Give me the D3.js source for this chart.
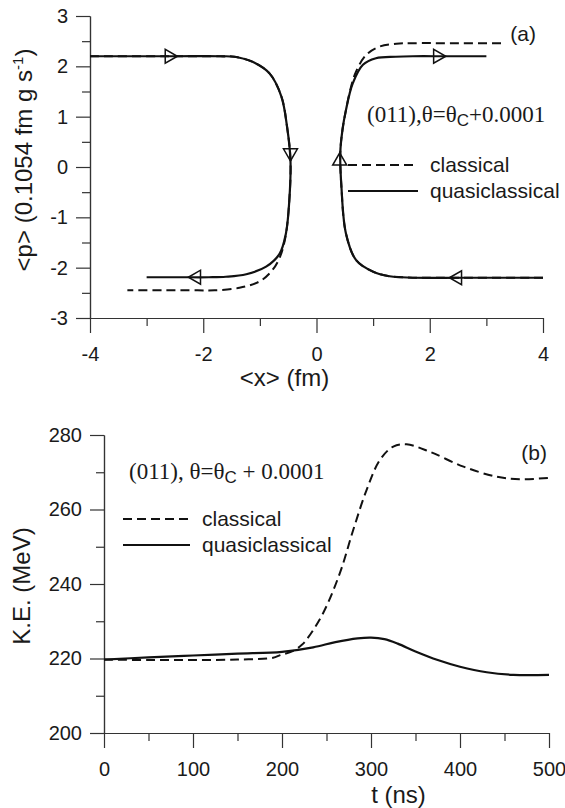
<!DOCTYPE html>
<html>
<head>
<meta charset="utf-8">
<script src="https://cdn.jsdelivr.net/npm/d3@7"></script>
<style>
  body { margin: 0; background: #fff; }
  svg text { font-family: "Liberation Sans", Arial, sans-serif; fill: #1a1a1a; }
  .axis path, .axis line { stroke: #333; stroke-width: 1.2; }
  .axis text { font-size: 20px; fill: #1a1a1a; }
</style>
</head>
<body>
<svg id="chart" width="565" height="808"></svg>
<script>
// ---- panel (a): phase-space trajectories, [x, p] ----
const quasiLeft = [[-4, 2.2], [-2.5, 2.2], [-1.7, 2.2], [-1.45, 2.19], [-1.13, 2.09], [-0.83, 1.86],
  [-0.62, 1.40], [-0.52, 0.80], [-0.46, 0.14], [-0.48, -0.66], [-0.54, -1.32], [-0.65, -1.72],
  [-0.89, -1.98], [-1.24, -2.13], [-1.6, -2.18], [-1.9, -2.19], [-2.4, -2.19], [-3.0, -2.19]];
const classicLeft = [[-4, 2.2], [-2.5, 2.2], [-1.7, 2.2], [-1.45, 2.19], [-1.13, 2.09], [-0.83, 1.86],
  [-0.62, 1.40], [-0.52, 0.80], [-0.46, 0.14], [-0.48, -0.66], [-0.55, -1.40], [-0.65, -1.80],
  [-0.78, -2.05], [-1.0, -2.27], [-1.36, -2.40], [-1.8, -2.45], [-2.1, -2.45], [-2.7, -2.45], [-3.34, -2.45]];
const quasiRight = [[4, -2.2], [2.6, -2.2], [1.7, -2.2], [1.5, -2.19], [1.29, -2.17], [1.0, -2.08],
  [0.70, -1.85], [0.52, -1.32], [0.44, -0.39], [0.42, 0.28], [0.46, 0.75], [0.52, 1.13], [0.64, 1.66],
  [0.82, 2.03], [1.05, 2.16], [1.4, 2.19], [1.7, 2.2], [2.3, 2.2], [3.0, 2.2]];
const classicRight = [[4, -2.2], [2.6, -2.2], [1.7, -2.2], [1.5, -2.19], [1.29, -2.17], [1.0, -2.08],
  [0.70, -1.85], [0.52, -1.32], [0.44, -0.39], [0.42, 0.28], [0.46, 0.75], [0.52, 1.13], [0.60, 1.55],
  [0.70, 1.90], [0.88, 2.23], [1.11, 2.39], [1.41, 2.45], [1.7, 2.46], [2.4, 2.46], [3.28, 2.46]];
// direction markers on the quasiclassical curve
const arrowsA = [
  {x: -2.6, p: 2.2, dir: 90}, {x: -0.46, p: 0.28, dir: 180}, {x: -2.12, p: -2.19, dir: -90},
  {x: 0.41, p: 0.12, dir: 0}, {x: 2.14, p: 2.2, dir: 90}, {x: 2.49, p: -2.2, dir: -90}
];
const xTicksA = [-4, -2, 0, 2, 4];
const yTicksA = [-3, -2, -1, 0, 1, 2, 3];

// ---- panel (b): kinetic energy vs time ----
const tClassic = [0, 50, 100, 150, 190, 198, 212, 222, 228, 246, 265, 280, 295, 310, 325, 340, 366, 404, 441, 467, 500];
const keClassic = [219.7, 219.6, 219.6, 219.7, 220.2, 220.9, 222.0, 223.6, 225.2, 232.1, 242.9, 254.5, 265.2,
  273.3, 276.9, 277.5, 275.5, 271.5, 268.8, 268.1, 268.5];
const tQuasi = [0, 50, 100, 150, 200, 235, 260, 285, 300, 315, 330, 350, 375, 400, 430, 460, 500];
const keQuasi = [219.7, 220.3, 220.8, 221.3, 221.8, 223.0, 224.4, 225.4, 225.6, 225.2, 224.0, 221.9, 219.6,
  217.8, 216.3, 215.6, 215.6];
const xTicksB = [0, 100, 200, 300, 400, 500];
const yTicksB = [200, 220, 240, 260, 280];

const svg = d3.select('#chart');
const dash = '9,5';
const fmt = d => String(d);   // plain hyphen for negatives, as in the figure

function drawAxes(g, x, y, xMajor, xMinor, yMajor, yMinor) {
  const h = y.range()[0];
  const left = x.range()[0];
  g.append('g').attr('class', 'axis').attr('transform', `translate(0,${h})`)
    .call(d3.axisBottom(x).tickValues(xMinor).tickSize(8).tickFormat('').tickSizeOuter(0));
  g.append('g').attr('class', 'axis').attr('transform', `translate(0,${h})`)
    .call(d3.axisBottom(x).tickValues(xMajor).tickSize(15).tickPadding(14).tickSizeOuter(0).tickFormat(fmt))
    .selectAll('text').attr('dy', '0.71em');
  g.append('g').attr('class', 'axis').attr('transform', `translate(${left},0)`)
    .call(d3.axisLeft(y).tickValues(yMinor).tickSize(8).tickFormat('').tickSizeOuter(0));
  g.append('g').attr('class', 'axis').attr('transform', `translate(${left},0)`)
    .call(d3.axisLeft(y).tickValues(yMajor).tickSize(14).tickPadding(8).tickSizeOuter(0).tickFormat(fmt));
}

function legend(g, x0, x1, ys, tx) {
  g.append('line').attr('x1', x0).attr('x2', x1).attr('y1', ys[0]).attr('y2', ys[0])
    .attr('stroke', '#111').attr('stroke-width', 2).attr('stroke-dasharray', dash);
  g.append('line').attr('x1', x0).attr('x2', x1).attr('y1', ys[1]).attr('y2', ys[1])
    .attr('stroke', '#111').attr('stroke-width', 2);
  g.append('text').attr('x', tx).attr('y', ys[0] + 7).style('font-size', '21px').text('classical');
  g.append('text').attr('x', tx).attr('y', ys[1] + 7).style('font-size', '21px').text('quasiclassical');
}

function annotation(g, x, y, pre, post) {
  let t = g.append('text').attr('x', x).attr('y', y)
    .style('font-family', '"Liberation Serif", "Times New Roman", serif').style('font-size', '23px');
  t.append('tspan').text(pre);
  t.append('tspan').attr('dy', 4).style('font-family', '"Liberation Sans", Arial, sans-serif')
    .style('font-size', '17px').text('C');
  t.append('tspan').attr('dy', -4).text(post);
}

// ================= panel (a) =================
let xA = d3.scaleLinear().domain([-4, 4]).range([90, 543]);
let yA = d3.scaleLinear().domain([-3, 3]).range([318, 16]);
let gA = svg.append('g');

drawAxes(gA, xA, yA, xTicksA, [-3, -1, 1, 3], yTicksA, d3.range(-2.5, 3, 1));

let lineA = d3.line().x(d => xA(d[0])).y(d => yA(d[1])).curve(d3.curveCatmullRom.alpha(0.5));

[classicLeft, classicRight].forEach(c => {
  gA.append('path').attr('d', lineA(c)).attr('fill', 'none')
    .attr('stroke', '#111').attr('stroke-width', 2).attr('stroke-dasharray', dash);
});
[quasiLeft, quasiRight].forEach(c => {
  gA.append('path').attr('d', lineA(c)).attr('fill', 'none')
    .attr('stroke', '#111').attr('stroke-width', 2.2);
});

gA.selectAll('.arrow').data(arrowsA).join('path')
  .attr('class', 'arrow')
  .attr('d', d3.symbol(d3.symbolTriangle, 85))
  .attr('transform', d => `translate(${xA(d.x)},${yA(d.p)}) rotate(${d.dir})`)
  .attr('fill', 'none').attr('stroke', '#111').attr('stroke-width', 1.5);

// axis titles
gA.append('text').attr('x', xA(0) - 32).attr('y', 386).attr('text-anchor', 'middle')
  .style('font-size', '24px').text('<x> (fm)');
let ylabA = gA.append('text').attr('transform', 'translate(32,160) rotate(-90)')
  .attr('text-anchor', 'middle').style('font-size', '24px');
ylabA.append('tspan').text('<p> (0.1054 fm g s');
ylabA.append('tspan').attr('dy', -9).style('font-size', '15px').text('-1');
ylabA.append('tspan').attr('dy', 9).text(')');

gA.append('text').attr('x', 536).attr('y', 41).attr('text-anchor', 'end').style('font-size', '21px').text('(a)');

annotation(gA, 367, 122, '(011),θ=θ', '+0.0001');
legend(gA, 348, 418, [165, 191], 430);

// ================= panel (b) =================
let xB = d3.scaleLinear().domain([0, 500]).range([104, 549]);
let yB = d3.scaleLinear().domain([200, 280]).range([733, 435]);
let gB = svg.append('g');

drawAxes(gB, xB, yB, xTicksB, [50, 150, 250, 350, 450], yTicksB, [210, 230, 250, 270]);

let lineB = d3.line().x(d => xB(d[0])).y(d => yB(d[1])).curve(d3.curveCatmullRom.alpha(0.5));

gB.append('path').attr('d', lineB(d3.zip(tClassic, keClassic))).attr('fill', 'none')
  .attr('stroke', '#111').attr('stroke-width', 2).attr('stroke-dasharray', dash);
gB.append('path').attr('d', lineB(d3.zip(tQuasi, keQuasi))).attr('fill', 'none')
  .attr('stroke', '#111').attr('stroke-width', 2.2);

gB.append('text').attr('x', xB(250) + 72).attr('y', 803).attr('text-anchor', 'middle')
  .style('font-size', '24px').text('t (ns)');
gB.append('text').attr('transform', 'translate(30,586) rotate(-90)')
  .attr('text-anchor', 'middle').style('font-size', '24px').text('K.E. (MeV)');

gB.append('text').attr('x', 547).attr('y', 460).attr('text-anchor', 'end').style('font-size', '21px').text('(b)');

annotation(gB, 129, 479, '(011), θ=θ', ' + 0.0001');
legend(gB, 123, 190, [519, 545], 202);
</script>
</body>
</html>
